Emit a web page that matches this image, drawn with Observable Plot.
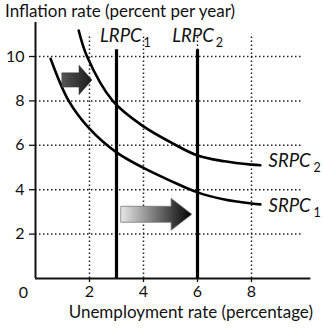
<!DOCTYPE html>
<html>
<head>
<meta charset="utf-8">
<script src="https://cdn.jsdelivr.net/npm/d3@7"></script>
<script src="https://cdn.jsdelivr.net/npm/@observablehq/plot@0.6"></script>
<style>
  body { margin: 0; background: #fff; }
  #wrap { position: relative; width: 323px; height: 331px; font-family: Lato, "Open Sans", sans-serif; color: #111; }
  #title { position: absolute; left: 5px; top: 0px; font-size: 17px; white-space: nowrap; }
  #caption { position: absolute; right: 10px; top: 301px; font-size: 17px; white-space: nowrap; }
  #chart { position: absolute; left: 0; top: 0; }
</style>
</head>
<body>
<div id="wrap">
  <div id="chart"></div>
  <div id="title">Inflation rate (percent per year)</div>
  <div id="caption">Unemployment rate (percentage)</div>
</div>
<script>
// ---- data ----
const xTicks = [2, 4, 6, 8];
const yTicks = [2, 4, 6, 8, 10];

const srpc1X = [0.56, 1.23, 2, 3, 4, 5, 6, 7, 8, 8.33];
const srpc1Y = [9.9, 8.0, 6.75, 5.68, 4.98, 4.4, 3.88, 3.56, 3.38, 3.34];

const srpc2X = [1.6, 1.91, 2.86, 4, 5, 6, 7, 8, 8.33];
const srpc2Y = [11.17, 10, 8.0, 6.85, 6.14, 5.54, 5.28, 5.13, 5.1];

const lrpcX = [3, 6];
const lrpcTop = 10.3;
const lrpcNames = ["LRPC", "LRPC"];
const lrpcSubs = ["1", "2"];
const lrpcLabelX = [3.93, 6.6];
const lrpcLabelY = [10.66, 10.66];

const srpcNames = ["SRPC", "SRPC"];
const srpcSubs = ["2", "1"];
const srpcLabelX = [8.63, 8.63];
const srpcLabelY = [5.03, 3.0];

// arrows: [xStart, xHeadStart, xTip, yCenter, bodyHalf, headHalf]
const arrowUpper = [1.0, 1.63, 2.11, 8.92, 0.32, 0.66];
const arrowLower = [3.19, 5.04, 5.81, 2.87, 0.36, 0.72];

// ---- build ----
const s1 = srpc1X.map((x, i) => ({x, y: srpc1Y[i]}));
const s2 = srpc2X.map((x, i) => ({x, y: srpc2Y[i]}));
function arrowPts(a) {
  const [x0, xh, xt, yc, bh, hh] = a;
  return [
    {x: x0, y1: yc - bh, y2: yc + bh},
    {x: xh, y1: yc - bh, y2: yc + bh},
    {x: xh, y1: yc - hh, y2: yc + hh},
    {x: xt, y1: yc, y2: yc}
  ];
}
const lr = lrpcX.map((x, i) => ({x, name: lrpcNames[i], sub: lrpcSubs[i], lx: lrpcLabelX[i], ly: lrpcLabelY[i]}));
const sr = srpcNames.map((n, i) => ({name: n, sub: srpcSubs[i], lx: srpcLabelX[i], ly: srpcLabelY[i]}));

const dotted = {stroke: "#222", strokeWidth: 1.5, strokeDasharray: "1.5,2.5"};
const font = "Lato, 'Open Sans', sans-serif";

const plot = Plot.plot({
  width: 323,
  height: 331,
  marginLeft: 35,
  marginRight: 18,
  marginTop: 56,
  marginBottom: 53,
  x: {domain: [0, 10]},
  y: {domain: [0, 10]},
  style: {fontFamily: font, fontSize: "15px", color: "#111", background: "#fff"},
  marks: [
    Plot.ruleY(yTicks, {x1: 0, x2: 9.9, ...dotted}),
    Plot.ruleX(xTicks, {y1: 0, y2: 11, ...dotted}),
    Plot.axisY(yTicks, {tickSize: 6, tickPadding: 5, fontSize: 16, label: null, stroke: "#111", strokeWidth: 1.3}),
    Plot.axisX(xTicks, {tickSize: 4, tickPadding: 3, fontSize: 16, label: null, stroke: "#111", strokeWidth: 1.3}),
    Plot.text([0], {x: 0, y: 0, text: d => String(d), dx: -12, dy: 14, fontSize: 16, fill: "#111"}),
    Plot.ruleX([0], {y1: 0, y2: 11.53, stroke: "#111", strokeWidth: 2}),
    Plot.ruleY([0], {x1: 0, x2: 10.2, stroke: "#111", strokeWidth: 2}),
    Plot.ruleX(lr, {x: "x", y1: 0, y2: lrpcTop, stroke: "#000", strokeWidth: 3.2}),
    Plot.line(s1, {x: "x", y: "y", curve: "catmull-rom", stroke: "#000", strokeWidth: 2.6}),
    Plot.line(s2, {x: "x", y: "y", curve: "catmull-rom", stroke: "#000", strokeWidth: 2.6}),
    Plot.area(arrowPts(arrowUpper), {x1: "x", y1: "y1", y2: "y2", curve: "linear", fill: "url(#gUp)", stroke: "#333", strokeWidth: 0.5}),
    Plot.area(arrowPts(arrowLower), {x1: "x", y1: "y1", y2: "y2", curve: "linear", fill: "url(#gLow)", stroke: "#777", strokeWidth: 0.8}),
    Plot.text(lr, {x: "lx", y: "ly", text: "name", textAnchor: "end", fontStyle: "italic", fontSize: 18.5, fill: "#111", lineAnchor: "bottom"}),
    Plot.text(lr, {x: "lx", y: "ly", text: "sub", textAnchor: "start", fontSize: 12.5, dx: 2, dy: 5, fill: "#111", lineAnchor: "bottom"}),
    Plot.text(sr, {x: "lx", y: "ly", text: "name", textAnchor: "start", fontStyle: "italic", fontSize: 18.5, fill: "#111", lineAnchor: "bottom"}),
    Plot.text(sr, {x: "lx", y: "ly", text: "sub", textAnchor: "start", fontSize: 12.5, dx: 45, dy: 5, fill: "#111", lineAnchor: "bottom"})
  ]
});

const defs = d3.select(plot).insert("defs", ":first-child");
const g1 = defs.append("linearGradient").attr("id", "gUp").attr("x1", 0).attr("x2", 1).attr("y1", 0).attr("y2", 0);
g1.append("stop").attr("offset", "0%").attr("stop-color", "#555");
g1.append("stop").attr("offset", "100%").attr("stop-color", "#1a1a1a");
const g2 = defs.append("linearGradient").attr("id", "gLow").attr("x1", 0).attr("x2", 1).attr("y1", 0).attr("y2", 0);
g2.append("stop").attr("offset", "0%").attr("stop-color", "#e6e6e6");
g2.append("stop").attr("offset", "100%").attr("stop-color", "#000");

document.getElementById("chart").appendChild(plot);
</script>
</body>
</html>
